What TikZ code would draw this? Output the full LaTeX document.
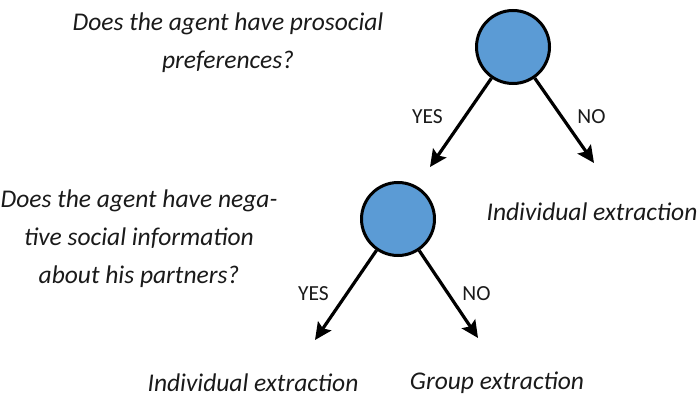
\documentclass[tikz,border=0pt]{standalone}
\usepackage{fontspec}
\setmainfont{Carlito}
\usetikzlibrary{arrows.meta}
\definecolor{nodeblue}{HTML}{5B9BD5}
\definecolor{ink}{HTML}{1A1A1A}

\begin{document}
\begin{tikzpicture}[
  x=1pt,y=-1pt,
  decision/.style={circle,draw=black,line width=3pt,fill=nodeblue,minimum size=73pt,inner sep=0pt},
  question/.style={align=center,font=\fontsize{25.5}{38}\selectfont\itshape,text=ink,inner sep=0pt},
  outcome/.style={font=\fontsize{25.5}{30}\selectfont\itshape,text=ink,inner sep=0pt},
  answer/.style={font=\fontsize{21.5}{25}\selectfont,text=ink,inner sep=0pt},
  arr/.style={-{Stealth[length=17pt,width=16pt,inset=3pt]},line width=3.2pt,draw=black}
]
\useasboundingbox (0,0) rectangle (700,398);
\node[decision] (d1) at (513,47) {};
\node[decision] (d2) at (398,219) {};
\node[question] (q1) at (228,43) {Does the agent have prosocial\\preferences?};
\node[question] (q2) at (139,239) {Does the agent have nega-\\tive social information\\about his partners?};
\node[outcome] (o1) at (592,212) {Individual extraction};
\node[outcome] (o2) at (253,383) {Individual extraction};
\node[outcome] (o3) at (497,383) {Group extraction};
\coordinate (e1) at (430,167);
\coordinate (e2) at (594,163);
\coordinate (e3) at (315,340);
\coordinate (e4) at (478,338);
\draw[arr] (d1) -- (e1);
\draw[arr] (d1) -- (e2);
\draw[arr] (d2) -- (e3);
\draw[arr] (d2) -- (e4);
\node[answer] (y1) at (427.5,117) {YES};
\node[answer] (n1) at (591.5,117) {NO};
\node[answer] (y2) at (313.5,294) {YES};
\node[answer] (n2) at (476.5,294) {NO};
\end{tikzpicture}
\end{document}
